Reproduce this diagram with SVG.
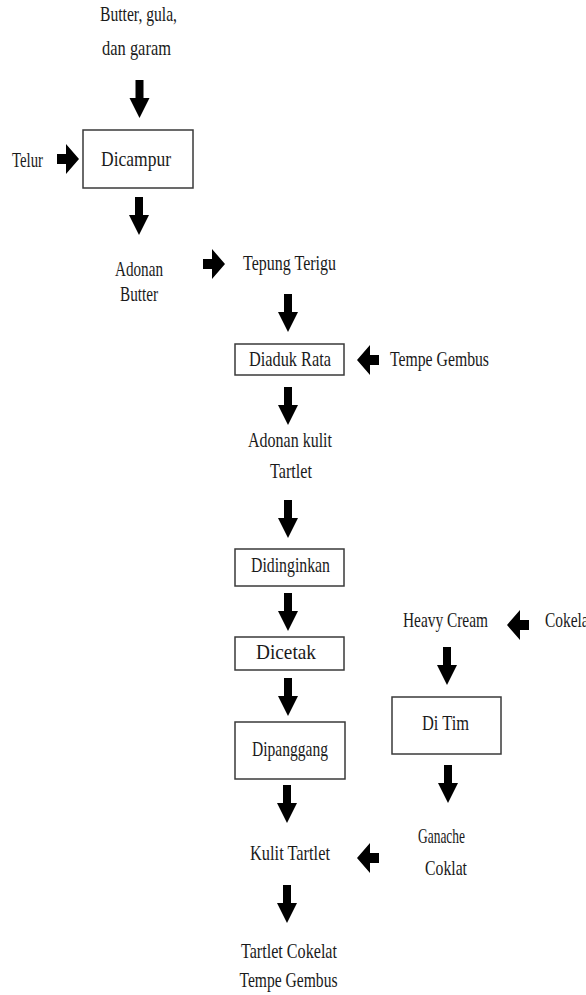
<svg xmlns="http://www.w3.org/2000/svg" xmlns:xlink="http://www.w3.org/1999/xlink" width="586" height="995" viewBox="0 0 586 995">
<style>
text { font-family: "Liberation Serif", "DejaVu Serif", serif; font-size: 21px; fill: #1a1a1a; }
.c { text-anchor: middle; }
.box { fill: #ffffff; stroke: #3a3a3a; stroke-width: 1.5; }
.arr { fill: #000000; }
</style>
<defs>
<path id="down" class="arr" d="M-4,0 H4 V18 H10 L0,38 L-10,18 H-4 Z"/>
<path id="right" class="arr" d="M0,0 L-13,-15 V-5 H-22 V5 H-13 V15 Z"/>
</defs>
<rect width="586" height="995" fill="#ffffff"/>

<g id="connectors">
<use xlink:href="#down" x="139.5" y="80"/>
<use xlink:href="#down" x="139" y="197"/>
<use xlink:href="#right" x="79" y="159"/>
<use xlink:href="#right" x="225" y="264"/>
<use xlink:href="#down" x="288" y="294"/>
<use xlink:href="#right" transform="translate(357,360) scale(-1,1)"/>
<use xlink:href="#down" x="288" y="387"/>
<use xlink:href="#down" x="288" y="500"/>
<use xlink:href="#down" x="288" y="593"/>
<use xlink:href="#down" x="288" y="678"/>
<use xlink:href="#down" x="287" y="785"/>
<use xlink:href="#right" transform="translate(357,858) scale(-1,1)"/>
<use xlink:href="#down" x="287" y="885"/>
<use xlink:href="#right" transform="translate(507,625) scale(-1,1)"/>
<use xlink:href="#down" x="447" y="647"/>
<use xlink:href="#down" x="448" y="765"/>
</g>

<g id="n-butter-gula">
<text class="c" x="138.5" y="21" textLength="77" lengthAdjust="spacingAndGlyphs">Butter, gula,</text>
<text class="c" x="136.5" y="55" textLength="69" lengthAdjust="spacingAndGlyphs">dan garam</text>
</g>
<g id="n-telur">
<text x="12" y="167" textLength="31" lengthAdjust="spacingAndGlyphs">Telur</text>
</g>
<g id="n-dicampur">
<rect class="box" x="83" y="130" width="110" height="58"/>
<text class="c" x="136" y="166" textLength="70" lengthAdjust="spacingAndGlyphs">Dicampur</text>
</g>
<g id="n-adonan-butter">
<text class="c" x="139" y="276" textLength="48" lengthAdjust="spacingAndGlyphs">Adonan</text>
<text class="c" x="139" y="301" textLength="38" lengthAdjust="spacingAndGlyphs">Butter</text>
</g>
<g id="n-tepung">
<text x="243" y="270" textLength="93" lengthAdjust="spacingAndGlyphs">Tepung Terigu</text>
</g>
<g id="n-diaduk">
<rect class="box" x="235" y="344" width="109" height="31"/>
<text class="c" x="290" y="366" textLength="82" lengthAdjust="spacingAndGlyphs">Diaduk Rata</text>
</g>
<g id="n-tempe">
<text x="390" y="366" textLength="99" lengthAdjust="spacingAndGlyphs">Tempe Gembus</text>
</g>
<g id="n-adonan-kulit">
<text class="c" x="290" y="447" textLength="84" lengthAdjust="spacingAndGlyphs">Adonan kulit</text>
<text class="c" x="291" y="478" textLength="42" lengthAdjust="spacingAndGlyphs">Tartlet</text>
</g>
<g id="n-didinginkan">
<rect class="box" x="235" y="549" width="109" height="37"/>
<text class="c" x="290.5" y="572" textLength="79" lengthAdjust="spacingAndGlyphs">Didinginkan</text>
</g>
<g id="n-dicetak">
<rect class="box" x="235" y="637" width="109" height="33"/>
<text class="c" x="286" y="659" textLength="60" lengthAdjust="spacingAndGlyphs">Dicetak</text>
</g>
<g id="n-dipanggang">
<rect class="box" x="235" y="722" width="110" height="57"/>
<text class="c" x="290" y="756" textLength="76" lengthAdjust="spacingAndGlyphs">Dipanggang</text>
</g>
<g id="n-kulit">
<text class="c" x="290" y="860" textLength="80" lengthAdjust="spacingAndGlyphs">Kulit Tartlet</text>
</g>
<g id="n-tartlet-cokelat">
<text class="c" x="289" y="958" textLength="96" lengthAdjust="spacingAndGlyphs">Tartlet Cokelat</text>
<text class="c" x="288.5" y="987" textLength="98" lengthAdjust="spacingAndGlyphs">Tempe Gembus</text>
</g>
<g id="n-heavy">
<text x="403" y="627" textLength="85" lengthAdjust="spacingAndGlyphs">Heavy Cream</text>
</g>
<g id="n-cokelat">
<text x="545" y="627" textLength="48" lengthAdjust="spacingAndGlyphs">Cokelat</text>
</g>
<g id="n-ditim">
<rect class="box" x="392" y="697" width="109" height="57"/>
<text class="c" x="445.5" y="730" textLength="47" lengthAdjust="spacingAndGlyphs">Di Tim</text>
</g>
<g id="n-ganache">
<text class="c" x="441.5" y="843" textLength="47" lengthAdjust="spacingAndGlyphs">Ganache</text>
<text class="c" x="446" y="875" textLength="42" lengthAdjust="spacingAndGlyphs">Coklat</text>
</g>
</svg>
